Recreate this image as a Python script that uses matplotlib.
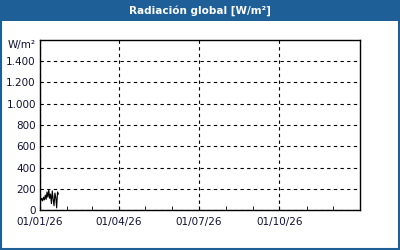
import matplotlib
matplotlib.use("Agg")
import matplotlib.pyplot as plt
import matplotlib.dates as mdates
from matplotlib.patches import Rectangle
from matplotlib.ticker import FuncFormatter, FixedLocator
import numpy as np
import datetime as dt

title = "Radiación global [W/m²]"
unit = "W/m²"
start_date = "2026-01-01"
end_date = "2027-01-01"
values = [100, 90, 110, 85, 120, 95, 140, 100, 170, 120, 190, 110,
          150, 60, 180, 100, 40, 160, 120, 20, 170, 150]
x_labels = ["01/01/26", "01/04/26", "01/07/26", "01/10/26"]
y_ticks = [0, 200, 400, 600, 800, 1000, 1200, 1400]
y_max = 1600

dates = np.arange(np.datetime64(start_date), np.datetime64(start_date) + len(values), 1)
dates = [d.astype(dt.datetime) for d in dates]
major_dates = [dt.datetime.strptime(s, "%d/%m/%y") for s in x_labels]

blue = "#1f5f97"
txt = "#111133"

fig = plt.figure(figsize=(4, 2.5), dpi=100)
fig.patch.set_facecolor("white")
fig.patches.append(Rectangle((0, 1 - 21 / 250), 1, 21 / 250, transform=fig.transFigure,
                             facecolor=blue, edgecolor="none", zorder=0))
fig.patches.append(Rectangle((0.002, 0.003), 0.995, 0.994, transform=fig.transFigure,
                             facecolor="none", edgecolor=blue, linewidth=1.5, zorder=5))
fig.text(0.5, 1 - 10.5 / 250, title, color="white", fontsize=7.5, fontweight="bold",
         ha="center", va="center")

ax = fig.add_axes([40 / 400, 1 - 210 / 250, 320 / 400, 170 / 250])
ax.plot(dates, values, color="black", linewidth=0.8)
ax.set_xlim(dt.datetime.fromisoformat(start_date), dt.datetime.fromisoformat(end_date))
ax.set_ylim(0, y_max)
ax.set_yticks(y_ticks)
ax.yaxis.set_major_formatter(FuncFormatter(lambda v, p: f"{int(v):,}".replace(",", ".")))
ax.xaxis.set_major_locator(FixedLocator(mdates.date2num(major_dates)))
ax.xaxis.set_minor_locator(mdates.MonthLocator())
ax.xaxis.set_major_formatter(mdates.DateFormatter("%d/%m/%y"))
ax.grid(True, which="major", color="black", linestyle=(0, (3, 3)), linewidth=0.8)
ax.tick_params(axis="x", which="both", direction="in", length=3, color="black",
               labelsize=7.5, labelcolor=txt, pad=5)
ax.tick_params(axis="y", which="both", length=0, labelsize=7.5, labelcolor=txt, pad=3)
for s in ax.spines.values():
    s.set_color("black")
    s.set_linewidth(1)
ax.text(-0.015, 0.97, unit, transform=ax.transAxes, ha="right", va="center",
        fontsize=7.5, color=txt)

fig.savefig("out.png", dpi=100)
